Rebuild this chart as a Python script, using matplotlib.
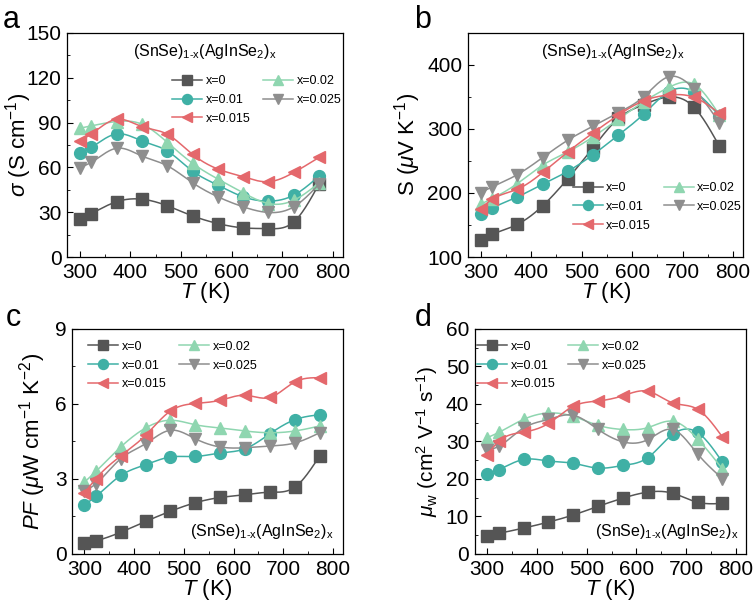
import numpy as np
import matplotlib
matplotlib.use("Agg")
import matplotlib.pyplot as plt
from matplotlib.ticker import MultipleLocator

plt.rcParams['font.family'] = ['Liberation Sans', 'DejaVu Sans']
plt.rcParams['mathtext.fontset'] = 'custom'
plt.rcParams['mathtext.rm'] = 'Liberation Sans'
plt.rcParams['mathtext.it'] = 'Liberation Sans:italic'
plt.rcParams['mathtext.bf'] = 'Liberation Sans:bold'

# temperatures (K)
T = [300, 323, 373, 423, 473, 523, 573, 623, 673, 723, 773]
labels = ['x=0', 'x=0.01', 'x=0.015', 'x=0.02', 'x=0.025']

# (a) electrical conductivity, S cm-1
sigma_0 = [25.3, 29.1, 37.0, 38.7, 34.3, 27.5, 22.4, 19.5, 19.0, 23.5, 49.0]
sigma_01 = [69.4, 73.4, 82.4, 77.7, 71.0, 57.5, 48.1, 40.3, 37.4, 41.4, 54.2]
sigma_015 = [77.7, 82.4, 92.2, 87.3, 82.2, 68.7, 58.9, 53.7, 50.4, 56.6, 66.7]
sigma_02 = [86.2, 87.8, 90.7, 88.9, 76.8, 62.7, 52.2, 43.0, 35.8, 38.0, 49.7]
sigma_025 = [59.8, 63.4, 72.8, 67.6, 61.1, 49.7, 40.3, 33.6, 29.8, 33.6, 48.8]

# (b) Seebeck coefficient, uV K-1
S_0 = [127, 135.5, 151, 180, 222.6, 271, 316.5, 338, 350, 333.7, 273]
S_01 = [167.3, 176.7, 193.9, 213.7, 234, 260, 290.4, 323.3, 358.2, 358, 320]
S_015 = [175.6, 190.2, 205.9, 232, 264.3, 294, 321.7, 344, 353, 349.3, 324.3]
S_02 = [182.4, 191.3, 214.8, 243.5, 264.3, 287.8, 315.4, 342.6, 365, 369.7, 321.7]
S_025 = [200.7, 209.5, 228.8, 255.4, 282.6, 304.5, 325.4, 350.4, 381.7, 361.9, 309.7]

# (c) power factor, uW cm-1 K-2
PF_0 = [0.44, 0.53, 0.87, 1.30, 1.71, 2.05, 2.26, 2.37, 2.47, 2.67, 3.92]
PF_01 = [1.97, 2.30, 3.14, 3.57, 3.88, 3.90, 4.04, 4.21, 4.81, 5.37, 5.57]
PF_015 = [2.43, 3.01, 3.92, 4.75, 5.72, 6.02, 6.15, 6.35, 6.26, 6.88, 7.05]
PF_02 = [2.87, 3.30, 4.28, 5.04, 5.35, 5.17, 5.04, 4.92, 4.85, 4.92, 5.12]
PF_025 = [2.50, 2.81, 3.81, 4.41, 4.95, 4.61, 4.28, 4.25, 4.32, 4.44, 4.85]

# (d) weighted mobility, cm2 V-1 s-1
mu_0 = [4.9, 5.5, 6.9, 8.5, 10.4, 12.7, 14.9, 16.5, 16.2, 13.8, 13.5]
mu_01 = [21.4, 22.5, 25.2, 24.8, 24.2, 22.9, 23.6, 25.7, 31.9, 32.4, 24.5]
mu_015 = [26.5, 30.0, 32.5, 34.8, 39.4, 40.8, 42.2, 43.4, 40.3, 38.6, 31.2]
mu_02 = [31.0, 32.4, 35.9, 37.6, 36.7, 34.3, 33.2, 33.7, 35.4, 30.7, 22.7]
mu_025 = [27.6, 28.7, 33.6, 35.9, 37.0, 33.2, 29.9, 30.5, 33.2, 26.7, 20.1]

colors = ['#555555', '#3fb0a5', '#e4686c', '#8fd6b0', '#8e8e8e']
markers = ['s', 'o', '<', '^', 'v']
zorders = [3, 4, 7, 5, 6]


def smooth(x, y, n=300):
    # natural cubic spline through the points, just for drawing the line
    x = np.asarray(x, float)
    y = np.asarray(y, float)
    h = np.diff(x)
    m = len(x)
    A = np.zeros((m, m))
    b = np.zeros(m)
    A[0, 0] = A[-1, -1] = 1
    for i in range(1, m - 1):
        A[i, i - 1] = h[i - 1]
        A[i, i] = 2 * (h[i - 1] + h[i])
        A[i, i + 1] = h[i]
        b[i] = 6 * ((y[i + 1] - y[i]) / h[i] - (y[i] - y[i - 1]) / h[i - 1])
    M = np.linalg.solve(A, b)
    xs = np.linspace(x[0], x[-1], n)
    k = np.clip(np.searchsorted(x, xs) - 1, 0, m - 2)
    t0 = x[k + 1] - xs
    t1 = xs - x[k]
    hk = h[k]
    ys = (M[k] * t0 ** 3 + M[k + 1] * t1 ** 3) / (6 * hk) \
        + (y[k] / hk - M[k] * hk / 6) * t0 + (y[k + 1] / hk - M[k + 1] * hk / 6) * t1
    return xs, ys


def draw(ax, series):
    handles = []
    for ys, c, mk, lab, z in zip(series, colors, markers, labels, zorders):
        xs, yy = smooth(T, ys)
        ax.plot(xs, yy, color=c, lw=1.1, zorder=z)
        ax.plot(T, ys, linestyle='none', marker=mk, ms=8.5, color=c,
                markeredgecolor=c, zorder=z)
        h, = ax.plot([], [], color=c, lw=1.1, marker=mk, ms=8, label=lab)
        handles.append(h)
    return handles


def style(ax, ylim, ymaj, ymin):
    ax.set_xlim(275, 820)
    ax.set_ylim(*ylim)
    ax.xaxis.set_major_locator(MultipleLocator(100))
    ax.xaxis.set_minor_locator(MultipleLocator(50))
    ax.yaxis.set_major_locator(MultipleLocator(ymaj))
    ax.yaxis.set_minor_locator(MultipleLocator(ymin))
    ax.tick_params(which='both', direction='in', labelsize=15, pad=4)
    ax.tick_params(which='major', length=4)
    ax.tick_params(which='minor', length=2.5)
    ax.set_xlabel('$T$ (K)', fontsize=16, labelpad=-1)
    for s in ax.spines.values():
        s.set_linewidth(0.9)


fig = plt.figure(figsize=(7.56, 6.04), dpi=100)
axa = fig.add_axes([0.0886, 0.5745, 0.365, 0.371])
axb = fig.add_axes([0.619, 0.5745, 0.364, 0.371])
axc = fig.add_axes([0.0952, 0.0828, 0.3585, 0.3725])
axd = fig.add_axes([0.628, 0.0828, 0.3585, 0.3725])

formula = '(SnSe)$_\\mathrm{1\u2011x}$(AgInSe$_\\mathrm{2}$)$_\\mathrm{x}$'
leg_kw = dict(ncol=2, fontsize=9, frameon=False, handlelength=2.4,
              columnspacing=1.0, labelspacing=0.55, handletextpad=0.3,
              borderpad=0, borderaxespad=0, markerscale=0.9)

# (a)
h = draw(axa, [sigma_0, sigma_01, sigma_015, sigma_02, sigma_025])
style(axa, (0, 150), 30, 15)
axa.set_ylabel('$\\sigma$ (S cm$^{-1}$)', fontsize=16)
axa.yaxis.set_label_coords(-0.118, 0.5)
axa.text(0.5, 0.915, formula, transform=axa.transAxes, ha='center', va='center', fontsize=11.5)
axa.legend(handles=h, loc='upper left', bbox_to_anchor=(0.38, 0.812), **leg_kw)

# (b)
h = draw(axb, [S_0, S_01, S_015, S_02, S_025])
style(axb, (100, 450), 100, 50)
axb.set_ylabel('S ($\\mu$V K$^{-1}$)', fontsize=16)
axb.yaxis.set_label_coords(-0.165, 0.5)
axb.text(0.527, 0.915, formula, transform=axb.transAxes, ha='center', va='center', fontsize=11.5)
axb.legend(handles=h, loc='upper left', bbox_to_anchor=(0.38, 0.335), **leg_kw)

# (c)
h = draw(axc, [PF_0, PF_01, PF_015, PF_02, PF_025])
style(axc, (0, 9), 3, 1.5)
axc.set_ylabel('$PF$ ($\\mu$W cm$^{-1}$ K$^{-2}$)', fontsize=16)
axc.yaxis.set_label_coords(-0.089, 0.5)
axc.text(0.965, 0.1, formula, transform=axc.transAxes, ha='right', va='center', fontsize=11.5)
axc.legend(handles=h, loc='upper left', bbox_to_anchor=(0.06, 0.948), **leg_kw)

# (d)
h = draw(axd, [mu_0, mu_01, mu_015, mu_02, mu_025])
style(axd, (0, 60), 10, 5)
axd.set_ylabel('$\\mu_\\mathrm{w}$ (cm$^2$ V$^{-1}$ s$^{-1}$)', fontsize=15)
axd.yaxis.set_label_coords(-0.129, 0.5)
axd.text(0.975, 0.1, formula, transform=axd.transAxes, ha='right', va='center', fontsize=11.5)
axd.legend(handles=h, loc='upper left', bbox_to_anchor=(0.008, 0.948), **leg_kw)

# panel letters
for lab, x, y in [('a', 0.003, 0.992), ('b', 0.548, 0.992), ('c', 0.008, 0.498), ('d', 0.548, 0.498)]:
    fig.text(x, y, lab, fontsize=22, ha='left', va='top')

fig.savefig('out.png', dpi=100)
